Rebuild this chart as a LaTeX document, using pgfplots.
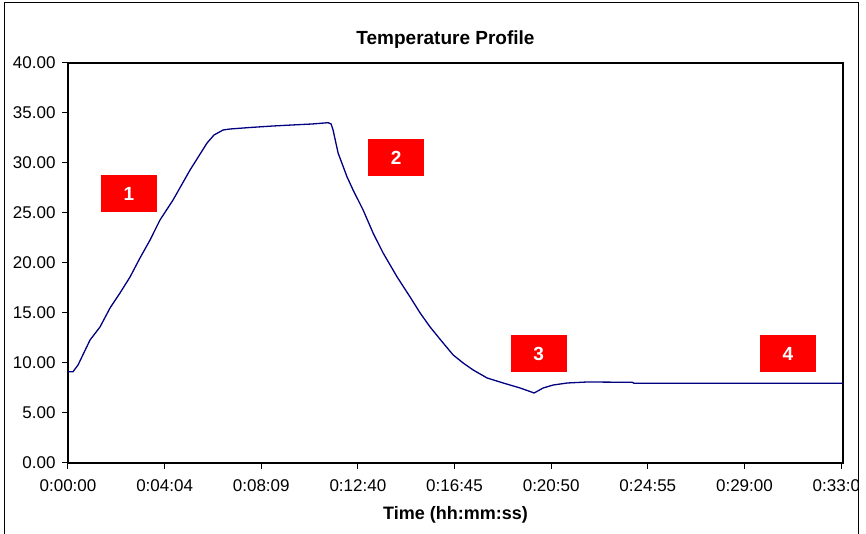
\documentclass[border=0pt]{standalone}
\usepackage{pgfplots}
\pgfplotsset{compat=1.18}
\usepackage{fontspec}
\setmainfont{Liberation Sans}
\definecolor{navyline}{RGB}{0,0,128}
\begin{document}
\begin{tikzpicture}[x=1bp,y=1bp]
\useasboundingbox (-68,-71) rectangle (798,463);
\begin{scope}
\clip (-63,-71) rectangle (790,460);
\begin{axis}[
  at={(0,0)}, anchor=south west,
  scale only axis, width=775bp, height=400bp,
  xmin=0, xmax=8.02, ymin=0, ymax=40,
  xtick={0,1,2,3,4,5,6,7,8},
  xticklabels={0:00:00,0:04:04,0:08:09,0:12:40,0:16:45,0:20:50,0:24:55,0:29:00,0:33:00},
  ytick={0,5,10,15,20,25,30,35,40},
  yticklabel style={xshift=-3bp, /pgf/number format/.cd, fixed, fixed zerofill, precision=2},
  /pgf/number format/assume math mode=true,
  ticklabel style={font=\fontsize{17bp}{20bp}\selectfont},
  xticklabel style={yshift=-7bp},
  tick align=outside, xtick pos=bottom, ytick pos=left,
  major tick length=6bp,
  tick style={black, line width=1bp},
  axis line style={black, line width=1.6bp},
  title={Temperature Profile},
  title style={font=\bfseries\fontsize{19bp}{22bp}\selectfont, at={(axis description cs:0.5,1)}, anchor=center, yshift=17bp, xshift=-10bp},
  xlabel={Time (hh:mm:ss)},
  xlabel style={font=\bfseries\fontsize{18bp}{21bp}\selectfont, at={(axis description cs:0.5,0)}, anchor=center, yshift=-52bp},
  clip=false,
]
\addplot[navyline, line width=1.3bp] coordinates {
(0,9.13) (0.052,9.13) (0.104,9.8) (0.228,12.3) (0.331,13.6) (0.435,15.5)
(0.538,17.0) (0.642,18.6) (0.745,20.5) (0.849,22.3) (0.952,24.3) (1.087,26.3)
(1.263,29.3) (1.439,32.0) (1.511,32.8) (1.605,33.3) (1.677,33.4) (1.884,33.55)
(2.122,33.7) (2.319,33.8) (2.526,33.9) (2.692,34.03) (2.723,33.9) (2.743,33.3)
(2.795,31.0) (2.888,28.6) (2.950,27.3) (3.054,25.3) (3.157,23.0) (3.261,21.0)
(3.406,18.6) (3.540,16.6) (3.644,15.0) (3.747,13.6) (3.882,12.0) (3.986,10.8)
(4.089,10.0) (4.193,9.3) (4.337,8.5) (4.503,8.0) (4.679,7.5) (4.824,7.0)
(4.917,7.5) (5.021,7.8) (5.166,8.0) (5.373,8.1) (5.838,8.07) (5.859,7.97)
(8.02,7.97)
};
\node[fill=red, minimum width=56bp, minimum height=37bp, inner sep=0pt, text=white, font=\bfseries\fontsize{19bp}{22bp}\selectfont] at (axis cs:0.631,26.95) {1};
\node[fill=red, minimum width=56bp, minimum height=37bp, inner sep=0pt, text=white, font=\bfseries\fontsize{19bp}{22bp}\selectfont] at (axis cs:3.395,30.55) {2};
\node[fill=red, minimum width=56bp, minimum height=37bp, inner sep=0pt, text=white, font=\bfseries\fontsize{19bp}{22bp}\selectfont] at (axis cs:4.87,10.95) {3};
\node[fill=red, minimum width=56bp, minimum height=37bp, inner sep=0pt, text=white, font=\bfseries\fontsize{19bp}{22bp}\selectfont] at (axis cs:7.45,10.95) {4};
\end{axis}
\end{scope}
\draw[black, line width=1bp] (-63,-71) -- (-63,460) -- (790,460) -- (790,-71);
\end{tikzpicture}
\end{document}
